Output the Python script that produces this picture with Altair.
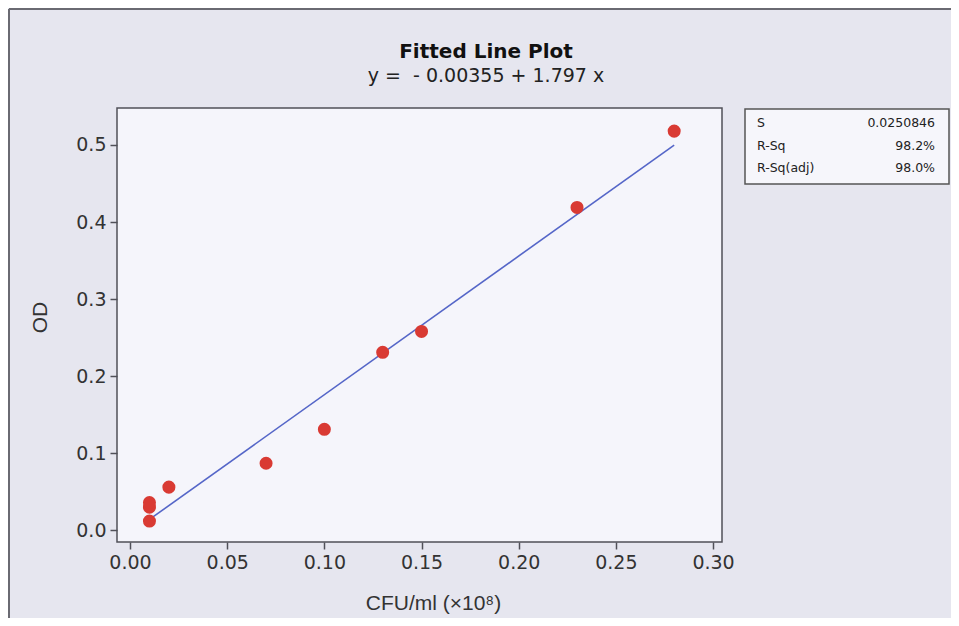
import altair as alt
import pandas as pd

# data
cfu = [0.01, 0.01, 0.01, 0.02, 0.07, 0.10, 0.13, 0.15, 0.23, 0.28]
od = [0.012, 0.030, 0.036, 0.056, 0.087, 0.131, 0.231, 0.258, 0.419, 0.518]
x_ticks = [0.0, 0.05, 0.10, 0.15, 0.20, 0.25, 0.30]
y_ticks = [0.0, 0.1, 0.2, 0.3, 0.4, 0.5]
stat_names = ["S", "R-Sq", "R-Sq(adj)"]
stat_values = ["0.0250846", "98.2%", "98.0%"]
title_text = "Fitted Line Plot"
subtitle_text = "y = \u00a0- 0.00355 + 1.797 x"

df = pd.DataFrame({"CFU": cfu, "OD": od})
one = pd.DataFrame({"k": [0]})

FONT = "DejaVu Sans, sans-serif"
AXFONT = "Liberation Sans, Arial, sans-serif"

xs = alt.Scale(domain=[-0.0067, 0.3046], nice=False, zero=False)
ys = alt.Scale(domain=[-0.0152, 0.548], nice=False, zero=False)

base = alt.Chart(df)

points = base.mark_circle(size=170, color="#D93A33", opacity=1).encode(
    x=alt.X("CFU:Q", scale=xs,
            axis=alt.Axis(values=x_ticks, format=".2f", title="CFU/ml (×10⁸)",
                          titleX=316, titleY=61, titleBaseline="middle")),
    y=alt.Y("OD:Q", scale=ys,
            axis=alt.Axis(values=y_ticks, format=".1f", title="OD",
                          titleX=-77, titleY=209, titleBaseline="middle")),
)

fit = base.transform_regression("CFU", "OD").mark_line(
    color="#5566C8", strokeWidth=1.6
).encode(x=alt.X("CFU:Q", scale=xs), y=alt.Y("OD:Q", scale=ys))

frame_left = alt.Chart(one).mark_rule(color="#6A6A72", strokeWidth=2).encode(
    x=alt.value(-108), y=alt.value(-99), y2=alt.value(520)
)
frame_top = alt.Chart(one).mark_rule(color="#6A6A72", strokeWidth=2).encode(
    x=alt.value(-108), x2=alt.value(840), y=alt.value(-99)
)

box = alt.Chart(one).mark_rect(fill="#F6F6FB", stroke="#555555", strokeWidth=1.5).encode(
    x=alt.value(628), x2=alt.value(832), y=alt.value(1), y2=alt.value(76)
)

row_y = [15, 38, 60]
stat_layers = []
for name, val, yy in zip(stat_names, stat_values, row_y):
    stat_layers.append(
        alt.Chart(one).mark_text(align="left", baseline="middle", font=FONT,
                                 fontSize=12.5, color="#222222").encode(
            x=alt.value(640), y=alt.value(yy), text=alt.value(name))
    )
    stat_layers.append(
        alt.Chart(one).mark_text(align="right", baseline="middle", font=FONT,
                                 fontSize=12.5, color="#222222").encode(
            x=alt.value(818), y=alt.value(yy), text=alt.value(val))
    )

title_mark = alt.Chart(one).mark_text(
    align="center", baseline="middle", font=FONT, fontSize=20, fontWeight="bold",
    color="#111111").encode(x=alt.value(369), y=alt.value(-56), text=alt.value(title_text))
subtitle_mark = alt.Chart(one).mark_text(
    align="center", baseline="middle", font=FONT, fontSize=19,
    color="#222222").encode(x=alt.value(369), y=alt.value(-32), text=alt.value(subtitle_text))

chart = alt.layer(frame_left, frame_top, fit, points, box, title_mark, subtitle_mark,
                  *stat_layers).properties(
    width=605,
    height=434,
    autosize=alt.AutoSizeParams(type="none"),
    padding={"left": 109, "top": 100, "right": 229, "bottom": 76},
).configure(
    background="#E6E6EF",
).configure_view(
    fill="#F5F5FB", stroke="#505058", strokeWidth=1.5
).configure_axis(
    grid=False, domain=False,
    tickColor="#505058", tickWidth=1.5, tickSize=7,
    labelFont=FONT, labelFontSize=19, labelColor="#333333", labelPadding=4,
    titleFont=AXFONT, titleFontSize=21, titleColor="#333333", titleFontWeight="normal",
)

chart.save("out.html", embed_options={"renderer": "svg", "actions": False})
